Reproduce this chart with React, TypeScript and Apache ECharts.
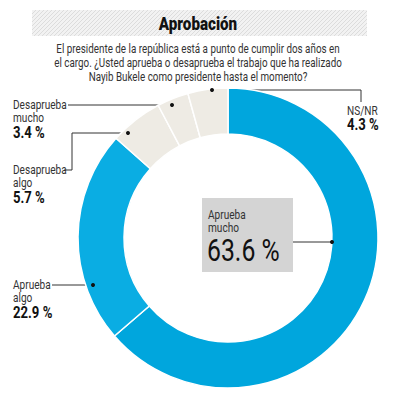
import React, { useEffect, useRef } from "react";
import * as echarts from "echarts";

const categories = ["Aprueba mucho", "Aprueba algo", "Desaprueba algo", "Desaprueba mucho", "NS/NR"];
const values = [63.6, 22.9, 5.7, 3.4, 4.3];
const colors = ["#00A6DD", "#0AADE3", "#EEEBE4", "#EEEBE4", "#EEEBE4"];
const titleText = "Aprobación";
const subtitleLines = [
  "El presidente de la república está a punto de cumplir dos años en",
  "el cargo. ¿Usted aprueba o desaprueba el trabajo que ha realizado",
  "Nayib Bukele como presidente hasta el momento?",
];

const FONT = "Roboto, 'Noto Sans', sans-serif";
const SX = 0.84;

function hatch() {
  const x0 = 32, x1 = 367, y0 = 10, y1 = 36;
  const h = y1 - y0;
  const els: any[] = [];
  for (let s = x0 - h; s < x1; s += 4) {
    let ax = s, ay = y1, bx = s + h, by = y0;
    if (ax < x0) { ay = y1 - (x0 - ax); ax = x0; }
    if (bx > x1) { by = y0 + (bx - x1); bx = x1; }
    if (bx <= ax) continue;
    els.push({ type: "line", silent: true, shape: { x1: ax, y1: ay, x2: bx, y2: by }, style: { stroke: "#DCDCDC", lineWidth: 1 } });
  }
  return els;
}

function txt(x: number, y: number, text: string, font: string, fill: string, sx = SX) {
  return {
    type: "text", x, y, scaleX: sx,
    style: { text, font, fill, textVerticalAlign: "middle" },
  };
}

function label(x: number, y: number, l1: string, l2: string, pct: string): any[] {
  return [
    txt(x, y, l1, `12px ${FONT}`, "#333"),
    txt(x, y + 13, l2, `12px ${FONT}`, "#333"),
    txt(x, y + 28, pct, `bold 16px ${FONT}`, "#111", 0.82),
  ];
}

function dot(x: number, y: number) {
  return { type: "circle", shape: { cx: x, cy: y, r: 2 }, style: { fill: "#111" }, z: 10 };
}

export default function App() {
  const ref = useRef<HTMLDivElement>(null);
  useEffect(() => {
    const chart = echarts.init(ref.current!, null, { renderer: "svg" });
    const lineStyle = { stroke: "#333", lineWidth: 1, fill: null };
    chart.setOption({
      animation: false,
      backgroundColor: "#fff",
      series: [
        {
          type: "pie",
          center: [228, 238],
          radius: [104, 150],
          startAngle: 90,
          clockwise: true,
          label: { show: false },
          labelLine: { show: false },
          emphasis: { disabled: true },
          itemStyle: { borderColor: "#fff", borderWidth: 1.5 },
          data: categories.map((c, i) => ({ name: c, value: values[i], itemStyle: { color: colors[i] } })),
        },
      ],
      graphic: [
        { type: "rect", shape: { x: 32, y: 10, width: 335, height: 26 }, style: { fill: "#F2F2F2" }, silent: true },
        ...hatch(),
        { type: "text", x: 198, y: 23, scaleX: 0.8, style: { text: titleText, font: `900 19px ${FONT}`, fill: "#111", textAlign: "center", textVerticalAlign: "middle" } },
        ...subtitleLines.map((t, i) => ({
          type: "text", x: 198, y: 49 + i * 14, scaleX: 0.82,
          style: { text: t, font: `12px ${FONT}`, fill: "#333", textAlign: "center", textVerticalAlign: "middle" },
        })),
        // Desaprueba mucho
        ...label(13, 105, "Desaprueba", "mucho", "3.4 %"),
        { type: "polyline", shape: { points: [[68, 105], [172, 105]] }, style: lineStyle },
        dot(172, 105),
        // Desaprueba algo
        ...label(13, 170, "Desaprueba", "algo", "5.7 %"),
        { type: "polyline", shape: { points: [[64, 170], [72, 170], [72, 133], [128, 133]] }, style: lineStyle },
        dot(128, 133),
        // NS/NR
        txt(347, 111, "NS/NR", `12px ${FONT}`, "#333"),
        txt(347, 125, "4.3 %", `bold 16px ${FONT}`, "#111", 0.82),
        { type: "polyline", shape: { points: [[212, 90], [361, 90], [361, 102]] }, style: lineStyle },
        dot(212, 90),
        // Aprueba algo
        ...label(13, 285, "Aprueba", "algo", "22.9 %"),
        { type: "polyline", shape: { points: [[52, 285], [93, 285]] }, style: lineStyle },
        dot(93, 285),
        // Aprueba mucho box
        { type: "rect", shape: { x: 202, y: 198, width: 91, height: 74 }, style: { fill: "#D4D4D4" } },
        txt(208, 215, "Aprueba", `12px ${FONT}`, "#333"),
        txt(208, 228, "mucho", `12px ${FONT}`, "#333"),
        txt(207, 251, "63.6 %", `31px ${FONT}`, "#111", 0.8),
        { type: "polyline", shape: { points: [[293, 242], [332, 242]] }, style: lineStyle },
        dot(332, 242),
      ],
    });
    return () => chart.dispose();
  }, []);
  return <div ref={ref} style={{ position: "fixed", left: 0, top: 0, width: 395, height: 400 }} />;
}
